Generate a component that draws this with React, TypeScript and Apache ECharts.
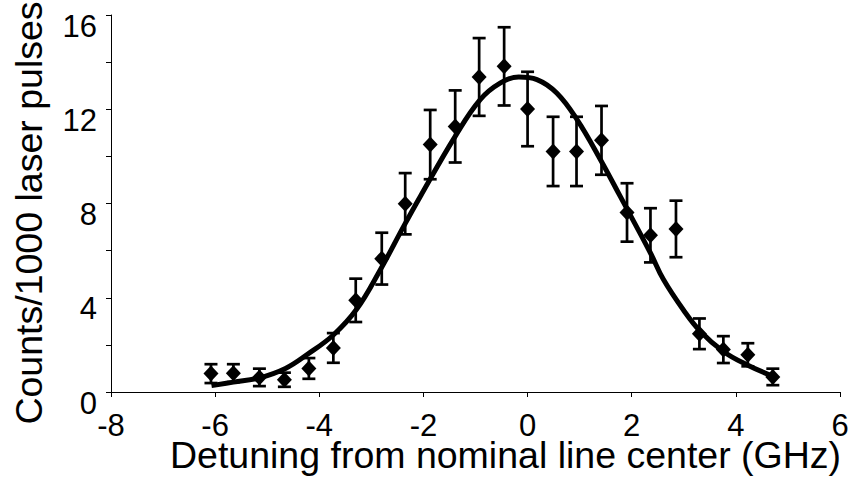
import React, { useEffect, useRef } from "react";
import * as echarts from "echarts";

// Measured points: detuning (GHz), counts per 1000 pulses, error half-length
const detuning = [-6.08, -5.65, -5.15, -4.67, -4.2, -3.73, -3.3, -2.8, -2.35, -1.87, -1.39, -0.93, -0.45, 0.0, 0.49, 0.94, 1.42, 1.91, 2.36, 2.85, 3.3, 3.76, 4.23, 4.71];
const counts = [0.78, 0.8, 0.62, 0.52, 1.0, 1.87, 3.89, 5.66, 7.99, 10.5, 11.27, 13.37, 13.82, 12.01, 10.21, 10.21, 10.68, 7.62, 6.65, 6.92, 2.47, 1.8, 1.58, 0.64];
const errors = [0.4, 0.38, 0.37, 0.3, 0.44, 0.63, 0.92, 1.1, 1.3, 1.47, 1.53, 1.65, 1.66, 1.58, 1.47, 1.47, 1.46, 1.24, 1.15, 1.2, 0.65, 0.57, 0.49, 0.35];

// Fitted curve
const fitX = [-6.07, -5.65, -5.15, -4.65, -4.24, -3.73, -3.28, -2.83, -2.38, -2.06, -1.39, -0.91, -0.52, -0.17, 0.18, 0.56, 0.95, 1.4, 1.78, 2.36, 2.61, 2.99, 3.32, 3.76, 4.21, 4.72];
const fitY = [0.27, 0.42, 0.6, 1.0, 1.58, 2.42, 3.52, 5.18, 7.03, 8.3, 10.85, 12.41, 13.12, 13.37, 13.26, 12.69, 11.56, 9.86, 8.3, 5.9, 4.77, 3.49, 2.57, 1.72, 1.16, 0.66];

const xTicks = { min: -8, max: 6, interval: 2 };
const yTicks = { min: 0, max: 16, interval: 4 };

export default function App() {
  const ref = useRef<HTMLDivElement>(null);
  useEffect(() => {
    if (!ref.current) return;
    const chart = echarts.init(ref.current, undefined, { renderer: "svg" });
    const font = "'Liberation Sans', Arial, sans-serif";
    const pts = detuning.map((x, i) => [x, counts[i]]);
    const errData = detuning.map((x, i) => [x, counts[i] - errors[i], counts[i] + errors[i]]);
    const fit = fitX.map((x, i) => [x, fitY[i]]);
    chart.setOption({
      animation: false,
      backgroundColor: "#ffffff",
      grid: { left: 111, right: 15, top: 15, bottom: 88, containLabel: false, outerBoundsMode: "none" },
      xAxis: {
        type: "value",
        min: xTicks.min,
        max: xTicks.max,
        interval: xTicks.interval,
        name: "Detuning from nominal line center (GHz)",
        nameLocation: "middle",
        nameGap: 47.75,
        nameMoveOverlap: false,
        nameTextStyle: { fontFamily: font, fontSize: 37.5, lineHeight: 30, color: "#000", padding: [0, 0, 0, 60] },
        axisLine: { show: true, onZero: false, lineStyle: { color: "#000", width: 1 } },
        axisTick: { show: true, inside: false, length: 5, lineStyle: { color: "#000", width: 1 } },
        axisLabel: { fontFamily: font, fontSize: 31, lineHeight: 24, color: "#000", margin: 21.5 },
        splitLine: { show: false },
      },
      yAxis: {
        type: "value",
        min: yTicks.min,
        max: yTicks.max,
        interval: yTicks.interval,
        name: "Counts/1000 laser pulses",
        nameLocation: "middle",
        nameRotate: 90,
        nameGap: 63,
        nameTextStyle: { fontFamily: font, fontSize: 37.5, color: "#000", padding: [0, 19, 0, 0] },
        axisLine: { show: true, onZero: false, lineStyle: { color: "#000", width: 1 } },
        axisTick: { show: true, inside: false, length: 5, lineStyle: { color: "#000", width: 1 } },
        minorTick: { show: true, splitNumber: 2, length: 5, lineStyle: { color: "#000", width: 1 } },
        axisLabel: { fontFamily: font, fontSize: 31, color: "#000", margin: 14, verticalAlign: "top", lineHeight: 22 },
        splitLine: { show: false },
        minorSplitLine: { show: false },
      },
      series: [
        {
          type: "custom",
          name: "error",
          data: errData,
          z: 2,
          renderItem: (params: any, api: any) => {
            const x = api.value(0);
            const lo = api.coord([x, api.value(1)]);
            const hi = api.coord([x, api.value(2)]);
            const hw = 6.5;
            const style = { stroke: "#000", lineWidth: 2.7 };
            return {
              type: "group",
              children: [
                { type: "line", shape: { x1: lo[0], y1: lo[1], x2: hi[0], y2: hi[1] }, style },
                { type: "line", shape: { x1: hi[0] - hw, y1: hi[1], x2: hi[0] + hw, y2: hi[1] }, style },
                { type: "line", shape: { x1: lo[0] - hw, y1: lo[1], x2: lo[0] + hw, y2: lo[1] }, style },
              ],
            };
          },
        },
        {
          type: "scatter",
          name: "data",
          data: pts,
          symbol: "diamond",
          symbolSize: [15, 16],
          itemStyle: { color: "#000", opacity: 1 },
          z: 3,
        },
        {
          type: "line",
          name: "fit",
          data: fit,
          smooth: 0.4,
          showSymbol: false,
          symbol: "none",
          lineStyle: { color: "#000", width: 5 },
          z: 4,
        },
      ],
    });
    return () => chart.dispose();
  }, []);
  return <div ref={ref} style={{ position: "absolute", left: 0, top: 0, width: 855, height: 480 }} />;
}
